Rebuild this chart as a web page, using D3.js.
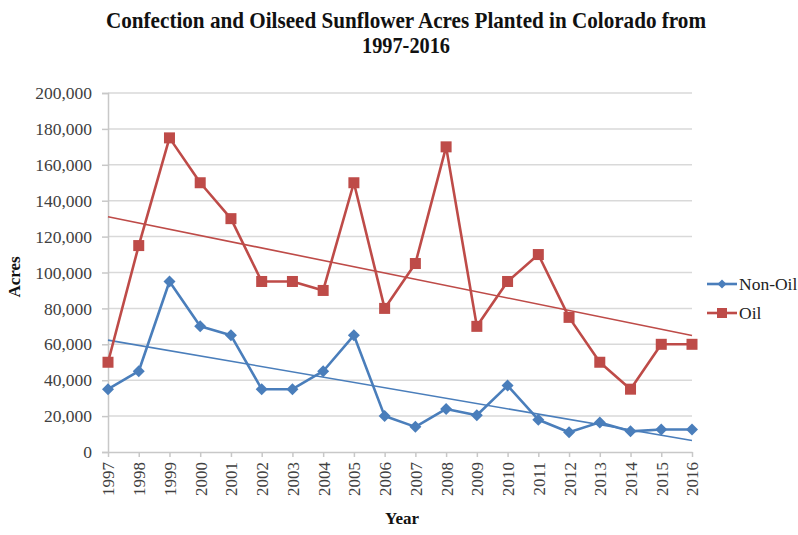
<!DOCTYPE html>
<html><head><meta charset="utf-8">
<script src="https://cdn.jsdelivr.net/npm/d3@7"></script>
<style>body{margin:0;background:#fff}svg{display:block}</style>
</head><body>
<svg id="c" width="798" height="535"></svg>
<script>
const years = ["1997","1998","1999","2000","2001","2002","2003","2004","2005","2006","2007","2008","2009","2010","2011","2012","2013","2014","2015","2016"];
const nonOil = [35000,45000,95000,70000,65000,35000,35000,45000,65000,20000,14000,24000,20500,37000,18000,11000,16500,11500,12500,12500];
const oil = [50000,115000,175000,150000,130000,95000,95000,90000,150000,80000,105000,170000,70000,95000,110000,75000,50000,35000,60000,60000];
const yTicks = [0,20000,40000,60000,80000,100000,120000,140000,160000,180000,200000];
const seriesNames = ["Non-Oil","Oil"];
const titleLines = ["Confection and Oilseed Sunflower Acres Planted in Colorado from","1997-2016"];

const svg = d3.select("#c");
const L = 108, R = 692, T = 93, B = 452;
const x = d3.scalePoint().domain(years).range([L, R]);
const y = d3.scaleLinear().domain([0, 200000]).range([B, T]);
const serif = "'Liberation Serif','Times New Roman',serif";
const colors = ["#4a7ebb", "#be4b48"];

// title (condensed look of the original)
const titleWidths = [600, 88];
svg.append("g").selectAll("text").data(titleLines).join("text")
  .attr("x", 406).attr("y", (d,i) => 28 + i*25)
  .attr("text-anchor", "middle").attr("font-family", serif)
  .attr("font-weight", "bold").attr("font-size", 23).attr("fill", "#111")
  .attr("textLength", (d,i) => titleWidths[i]).attr("lengthAdjust", "spacingAndGlyphs")
  .text(d => d);

// gridlines
svg.append("g").selectAll("line").data(yTicks.filter(d => d > 0)).join("line")
  .attr("x1", L).attr("x2", R).attr("y1", d => y(d)).attr("y2", d => y(d))
  .attr("stroke", "#d9d9d9").attr("stroke-width", 1.5);

// y axis
const ya = svg.append("g").attr("transform", `translate(${L},0)`)
  .call(d3.axisLeft(y).tickValues(yTicks).tickSize(6).tickPadding(10).tickFormat(d3.format(",")));
ya.select(".domain").attr("stroke", "#c8c8c8").attr("stroke-width", 1.5);
ya.selectAll(".tick line").attr("stroke", "#c8c8c8").attr("stroke-width", 1.5);
ya.selectAll("text").attr("font-family", serif).attr("font-size", 17.5).attr("fill", "#404040");

// x axis
const xa = svg.append("g").attr("transform", `translate(0,${B})`)
  .call(d3.axisBottom(x).tickSize(5).tickSizeOuter(0));
xa.select(".domain").attr("stroke", "#c8c8c8").attr("stroke-width", 1.5);
xa.selectAll(".tick line").attr("stroke", "#c8c8c8").attr("stroke-width", 1.5);
xa.selectAll("text").attr("font-family", serif).attr("font-size", 17).attr("fill", "#404040")
  .attr("transform", "rotate(-90)").attr("text-anchor", "end")
  .attr("x", -10).attr("y", 0).attr("dy", "0.35em");

// axis titles
svg.append("text").attr("transform", "translate(20,277) rotate(-90)")
  .attr("text-anchor", "middle").attr("font-family", serif).attr("font-weight", "bold")
  .attr("font-size", 17).attr("fill", "#111").text("Acres");
svg.append("text").attr("x", 402).attr("y", 524).attr("text-anchor", "middle")
  .attr("font-family", serif).attr("font-weight", "bold").attr("font-size", 17)
  .attr("fill", "#111").text("Year");

// trendlines (least squares, as in the original)
function fit(vals) {
  const xs = vals.map((v,i) => i);
  const mx = d3.mean(xs), my = d3.mean(vals);
  const b = d3.sum(xs, (xi,i) => (xi-mx)*(vals[i]-my)) / d3.sum(xs, xi => (xi-mx)**2);
  const a = my - b*mx;
  return [a, a + b*(vals.length-1)];
}
[nonOil, oil].forEach((vals, k) => {
  const [a0, a1] = fit(vals);
  svg.append("line").attr("x1", x(years[0])).attr("x2", x(years[years.length-1]))
    .attr("y1", y(a0)).attr("y2", y(a1)).attr("stroke", colors[k]).attr("stroke-width", 1.6);
});

// series lines
const line = d3.line().x((d,i) => x(years[i])).y(d => y(d));
[nonOil, oil].forEach((vals, k) => {
  svg.append("path").attr("d", line(vals)).attr("fill", "none")
    .attr("stroke", colors[k]).attr("stroke-width", 2.6).attr("stroke-linejoin", "round");
});

// markers
const diamond = s => `M0,${-s}L${s},0L0,${s}L${-s},0Z`;
svg.append("g").selectAll("path").data(nonOil).join("path")
  .attr("d", diamond(6)).attr("transform", (d,i) => `translate(${x(years[i])},${y(d)})`)
  .attr("fill", colors[0]);
svg.append("g").selectAll("rect").data(oil).join("rect")
  .attr("x", (d,i) => x(years[i]) - 5.5).attr("y", d => y(d) - 5.5)
  .attr("width", 11).attr("height", 11).attr("fill", colors[1]);

// legend
const lg = svg.append("g");
seriesNames.forEach((name, k) => {
  const ly = 284 + k*29;
  lg.append("line").attr("x1", 707).attr("x2", 737).attr("y1", ly).attr("y2", ly)
    .attr("stroke", colors[k]).attr("stroke-width", 2.6);
  if (k === 0) lg.append("path").attr("d", diamond(4.5)).attr("transform", `translate(722,${ly})`).attr("fill", colors[0]);
  else lg.append("rect").attr("x", 717).attr("y", ly-5).attr("width", 10).attr("height", 10).attr("fill", colors[1]);
  lg.append("text").attr("x", 739).attr("y", ly).attr("dy", "0.35em")
    .attr("font-family", serif).attr("font-size", 17.5).attr("fill", "#222").text(name);
});
</script>
</body></html>
